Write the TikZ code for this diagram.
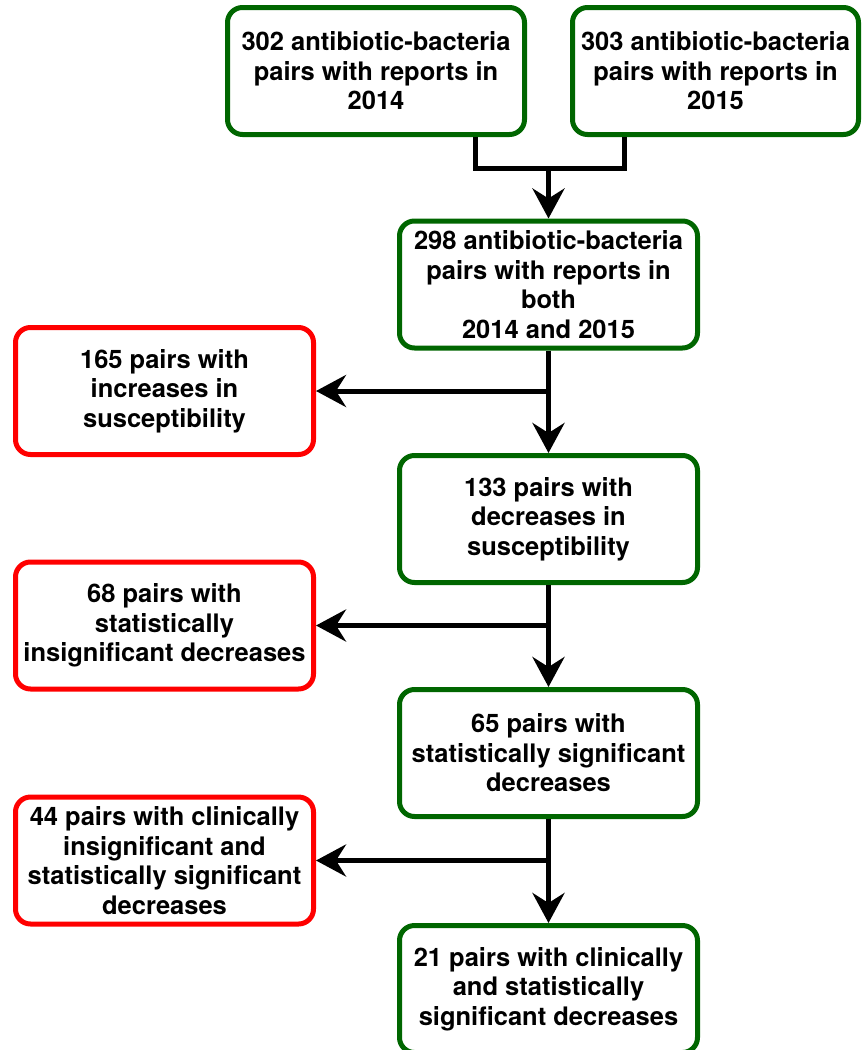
\documentclass[tikz,border=0pt]{standalone}
\usepackage{fontspec}
\setmainfont{TeX Gyre Heros}
\usetikzlibrary{%
  arrows.meta,
  calc%
}
\definecolor{keepgreen}{RGB}{0,102,0}
\definecolor{dropred}{RGB}{255,0,0}
\tikzset{
  pairbox/.style={
    draw=#1,
    line width=5pt,
    rounded corners=15pt,
    fill=white,
    align=center,
    minimum width=298pt,
    minimum height=127pt,
    inner sep=2pt,
    font=\bfseries\fontsize{25.5pt}{29.5pt}\selectfont
  },
  keep/.style={pairbox=keepgreen},
  drop/.style={pairbox=dropred},
  pairline/.style={
    line width=5pt
  },
  flow/.style={
    pairline,
    -{Stealth[length=30pt,width=32pt,inset=10pt]}
  }
}

\begin{document}
\begin{tikzpicture}[x=1pt,y=-1pt]
\useasboundingbox (0,0) rectangle (862,1050);
% the two years
\node[keep,minimum width=297pt] (y2014) at (376,71) {302 antibiotic-bacteria\\pairs with reports in\\2014};
\node[keep,minimum width=286pt] (y2015) at (715.5,71) {303 antibiotic-bacteria\\pairs with reports in\\2015};
% main column
\node[keep] (both) at (548.5,284.5) {298 antibiotic-bacteria\\pairs with reports in\\both\\2014 and 2015};
\node[keep] (decr) at (548.5,519) {133 pairs with\\decreases in\\susceptibility};
\node[keep] (sig) at (548.5,753) {65 pairs with\\statistically significant\\decreases};
\node[keep] (clinsig) at (548.5,989) {21 pairs with clinically\\and statistically\\significant decreases};
% dropped pairs
\node[drop] (incr) at (164.5,391) {165 pairs with\\increases in\\susceptibility};
\node[drop] (insig) at (164.5,625.5) {68 pairs with\\statistically\\insignificant decreases};
\node[drop] (clinins) at (164.5,860.5) {44 pairs with clinically\\insignificant and\\statistically significant\\decreases};
% joining the years
\coordinate (meet) at (both.north |- 0,168);
\draw[pairline] ([xshift=-52pt]y2014.south east) |- (meet) -| ([xshift=54pt]y2015.south west);
\draw[flow] (meet) -- (both);
% down the column
\draw[flow] (both) -- (decr);
\draw[flow] (decr) -- (sig);
\draw[flow] (sig) -- (clinsig);
% branches to the left
\foreach \drop in {incr,insig,clinins} {
  \coordinate (split-\drop) at (both.south |- \drop.east);
  \draw[flow] (split-\drop) -- (\drop);
}
\end{tikzpicture}
\end{document}
